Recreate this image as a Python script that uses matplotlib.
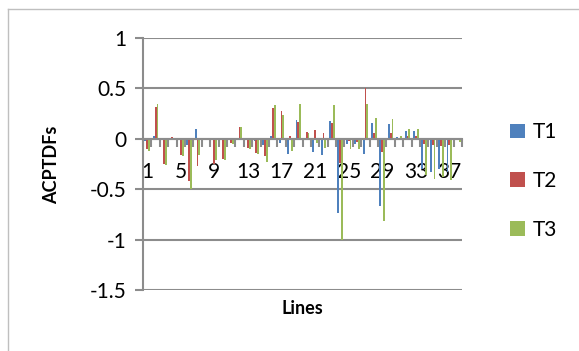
import matplotlib
matplotlib.use("Agg")
import matplotlib.pyplot as plt
from matplotlib.lines import Line2D
from matplotlib.patches import Patch
import numpy as np

lines = list(range(1, 39))

t1 = [-0.02, 0.03, 0.0, 0.0, -0.01, -0.06, 0.10, 0.01, 0.0, 0.0,
      0.0, 0.0, -0.01, -0.02, -0.06, 0.03, -0.04, -0.15, 0.19, -0.01,
      -0.135, -0.16, 0.18, -0.74, -0.05, -0.05, -0.15, 0.155, -0.67, 0.15,
      0.02, 0.08, 0.08, -0.30, -0.33, -0.30, -0.33, -0.01]
t2 = [-0.10, 0.32, -0.25, 0.015, -0.16, -0.42, -0.265, 0.0, -0.25, -0.20,
      -0.04, 0.115, -0.09, -0.14, -0.17, 0.31, 0.28, 0.025, 0.17, 0.065,
      0.085, 0.06, 0.16, -0.24, -0.02, -0.03, 0.50, 0.055, -0.13, 0.055,
      0.0, 0.03, 0.03, -0.05, -0.06, -0.07, -0.06, 0.0]
t3 = [-0.12, 0.35, -0.26, 0.0, -0.175, -0.50, -0.165, 0.0, -0.21, -0.21,
      -0.05, 0.115, -0.10, -0.15, -0.23, 0.335, 0.24, -0.125, 0.35, 0.055,
      -0.04, -0.09, 0.335, -1.0, -0.10, -0.10, 0.35, 0.21, -0.82, 0.20,
      0.03, 0.10, 0.10, -0.36, -0.40, -0.38, -0.41, -0.03]

series = [("T1", t1, "#4F81BD"), ("T2", t2, "#C0504D"), ("T3", t3, "#9BBB59")]
y_ticks = [-1.5, -1, -0.5, 0, 0.5, 1]
y_labels = ["-1.5", "-1", "-0.5", "0", "0.5", "1"]
x_label_every = 4

plt.rcParams["font.family"] = ["Lato", "DejaVu Sans"]

W, H = 579, 351
fig = plt.figure(figsize=(W / 100, H / 100), dpi=100)
ax = fig.add_axes([143 / W, 1 - 290 / H, (462 - 143) / W, (290 - 38) / H])

grid_c = "#8C8C8C"
x = np.array(lines, dtype=float)
bw = 1 / 4.5
for k, (name, vals, col) in enumerate(series):
    ax.bar(x + (k - 1) * bw, vals, width=bw, color=col, label=name, zorder=3,
           linewidth=0)

ax.set_xlim(0.5, len(lines) + 0.5)
ax.set_ylim(-1.5, 1)
ax.set_yticks(y_ticks)
ax.set_yticklabels(y_labels, fontsize=15)
ax.yaxis.grid(True, color=grid_c, linewidth=1.5, zorder=0)
ax.set_axisbelow(True)

# category axis crosses at zero
ax.spines["bottom"].set_position(("data", 0))
ax.spines["bottom"].set_color(grid_c)
ax.spines["bottom"].set_linewidth(1.5)
ax.spines["bottom"].set_zorder(4)
ax.spines["left"].set_color(grid_c)
ax.spines["left"].set_linewidth(1.5)
ax.spines["top"].set_visible(False)
ax.spines["right"].set_visible(False)

ax.set_xticks(np.arange(0.5, len(lines) + 1, 1.0))
ax.set_xticklabels([])
ax.tick_params(axis="x", which="major", direction="out", length=6,
               width=1.5, color=grid_c)
ax.set_xticks(x[::x_label_every], minor=True)
ax.set_xticklabels([str(v) for v in lines[::x_label_every]], minor=True,
                   fontsize=15)
ax.tick_params(axis="x", which="minor", length=0, pad=17)
ax.tick_params(axis="y", direction="out", length=6, width=1.5, color=grid_c,
               pad=6)

fig.text(52 / W, 1 - 165 / H, "ACPTDFs", rotation=90, fontsize=13,
         fontweight="bold", ha="center", va="center")
fig.text(302 / W, 1 - 308 / H, "Lines", fontsize=13, fontweight="bold",
         ha="center", va="center")

handles = [Patch(facecolor=c, edgecolor="none") for _, _, c in series]
fig.legend(handles, [n for n, _, _ in series], loc="center left",
           bbox_to_anchor=(500 / W, 1 - 181 / H), frameon=False, fontsize=15,
           handlelength=0.7, handleheight=0.7, handletextpad=0.35,
           labelspacing=1.37, borderpad=0)

# chart area border
bc = "#BFBFBF"
fig.add_artist(Line2D([8 / W, 8 / W], [0, 1 - 9 / H], color=bc, lw=1.0,
                      transform=fig.transFigure))
fig.add_artist(Line2D([8 / W, 1], [1 - 9 / H, 1 - 9 / H], color=bc, lw=1.0,
                      transform=fig.transFigure))

fig.savefig("out.png", dpi=100)
